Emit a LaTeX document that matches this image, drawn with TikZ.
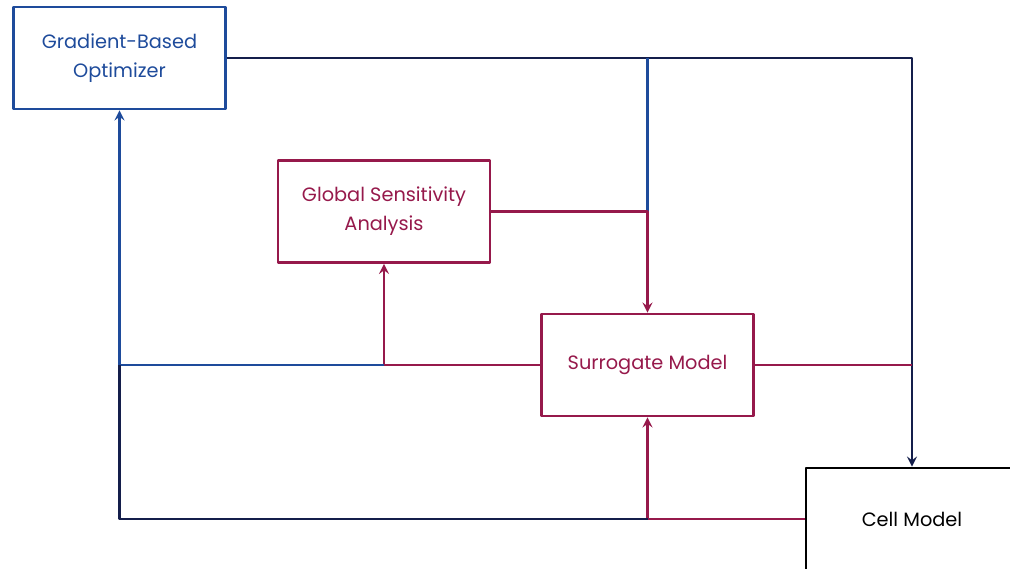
\documentclass[tikz,border=0pt]{standalone}
\usepackage{fontspec}
\setmainfont{Poppins}
\definecolor{optblue}{RGB}{30,75,155}
\definecolor{gsared}{RGB}{150,25,75}
\definecolor{navy}{RGB}{20,30,75}
\begin{document}
\begin{tikzpicture}[x=0.02cm, y=-0.02cm, font=\fontsize{11}{16.5}\selectfont, line join=round, >=stealth,
	box/.style={draw, line width=1.6pt, align=center, inner sep=0pt, minimum width=4.24cm, minimum height=2.04cm},
	link/.style={line width=1.5pt}]
				\clip (0,0) rectangle (1010,568);
				\node[box, optblue] (opt) at (119.5,58) {Gradient-Based\\Optimizer};
				\node[box, gsared] (gsa) at (384,211.5) {Global Sensitivity\\Analysis};
				\node[box, gsared] (surr) at (647.5,365) {Surrogate Model};
				\node[box, black] (cell) at (912,519) {Cell Model};
				\draw[link, navy, ->] (opt.east) -- (cell.north |- opt.east) -- (cell.north);
				\draw[link, optblue] (opt.east -| surr.north) -- (surr.north |- gsa.east);
				\draw[link, gsared, ->] (gsa.east) -- (gsa.east -| surr.north) -- (surr.north);
				\draw[link, gsared] (surr.west) -- (gsa.south |- surr.west);
				\draw[link, gsared, ->] (gsa.south |- surr.west) -- (gsa.south);
				\draw[link, optblue, ->] (gsa.south |- surr.west) -- (opt.south |- surr.west) -- (opt.south);
				\draw[link, gsared] (surr.east) -- (cell.north |- surr.east);
				\draw[link, gsared, ->] (cell.west) -- (surr.south |- cell.west) -- (surr.south);
				\draw[link, navy] (surr.south |- cell.west) -- (opt.south |- cell.west) -- (opt.south |- surr.west);
\end{tikzpicture}
\end{document}
